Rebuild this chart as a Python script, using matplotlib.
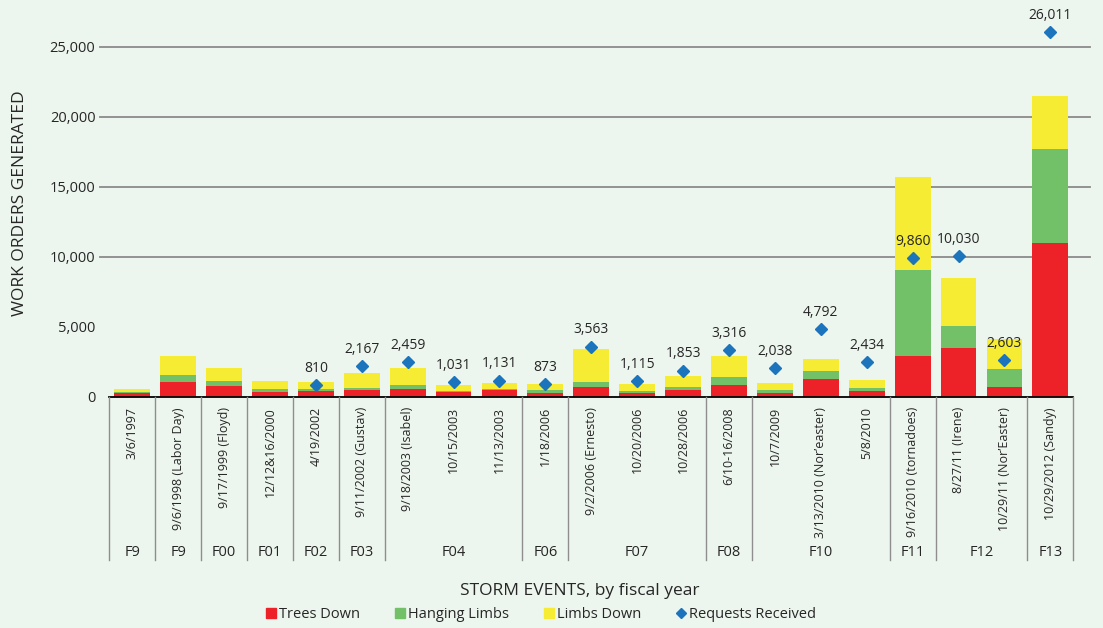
import numpy as np
import matplotlib
matplotlib.use("Agg")
import matplotlib.pyplot as plt
from matplotlib import transforms
from matplotlib.lines import Line2D

plt.rcParams['font.family'] = ['Open Sans', 'DejaVu Sans']

# ---------------- data ----------------
categories = ["3/6/1997", "9/6/1998 (Labor Day)", "9/17/1999 (Floyd)", "12/12&16/2000",
              "4/19/2002", "9/11/2002 (Gustav)", "9/18/2003 (Isabel)", "10/15/2003",
              "11/13/2003", "1/18/2006", "9/2/2006 (Ernesto)", "10/20/2006", "10/28/2006",
              "6/10-16/2008", "10/7/2009", "3/13/2010 (Nor\u2019easter)", "5/8/2010",
              "9/16/2010 (tornadoes)", "8/27/11 (Irene)", "10/29/11 (Nor\u2019Easter)",
              "10/29/2012 (Sandy)"]
fiscal_years = ["F9", "F9", "F00", "F01", "F02", "F03", "F04", "F06", "F07", "F08",
                "F10", "F11", "F12", "F13"]
fiscal_sizes = [1, 1, 1, 1, 1, 1, 3, 1, 3, 1, 3, 1, 2, 1]

trees_down = [260, 1070, 740, 310, 380, 480, 570, 310, 450, 260, 670, 260, 450, 790,
              260, 1240, 380, 2880, 3500, 710, 10930]
hanging_limbs = [80, 480, 350, 210, 190, 160, 220, 50, 70, 170, 400, 100, 220, 570,
                 190, 550, 210, 6190, 1570, 1220, 6780]
limbs_down = [170, 1350, 980, 620, 500, 1070, 1280, 430, 410, 430, 2290, 500, 830, 1500,
              550, 920, 620, 6640, 3410, 2210, 3790]
requests = [np.nan, np.nan, np.nan, np.nan, 810, 2167, 2459, 1031, 1131, 873, 3563, 1115,
            1853, 3316, 2038, 4792, 2434, 9860, 10030, 2603, 26011]
y_ticks = [0, 5000, 10000, 15000, 20000, 25000]
grid_values = [10000, 15000, 20000, 25000]

# ---------------- style ----------------
bg = '#EDF6EE'
c_red = '#ED2128'
c_green = '#72C169'
c_yellow = '#F5EC33'
c_blue = '#1C74BC'
c_text = '#262626'
c_grid = '#8A8A8A'

W, H = 1103, 628
fig = plt.figure(figsize=(W / 100, H / 100), dpi=100, facecolor=bg)
ax_left, ax_right, ax_base = 109.3, 1073.3, 396.5
ax = fig.add_axes([ax_left / W, (H - ax_base) / H, (ax_right - ax_left) / W, 385 / H])
ax.set_facecolor(bg)

x = np.arange(len(categories))
tr = np.array(trees_down)
hl = np.array(hanging_limbs)
ld = np.array(limbs_down)
bw = 0.78
ax.bar(x, tr, bw, color=c_red, zorder=3)
ax.bar(x, hl, bw, bottom=tr, color=c_green, zorder=3)
ax.bar(x, ld, bw, bottom=tr + hl, color=c_yellow, zorder=3)

req = np.array(requests, dtype=float)
ax.plot(x, req, linestyle='none', marker='D', markersize=5.8, color=c_blue, zorder=5)
for xi, v in zip(x, req):
    if not np.isnan(v):
        ax.annotate(f"{int(v):,}", (xi, v), xytext=(0, 12), textcoords='offset points',
                    ha='center', va='center', fontsize=10, color=c_text, zorder=6,
                    annotation_clip=False)

ax.set_xlim(-0.5, len(categories) - 0.5)
ax.set_ylim(0, 27500)
ax.set_yticks(y_ticks)
ax.set_yticklabels([f"{v:,}" for v in y_ticks], fontsize=10.5, color=c_text)
ax.tick_params(axis='y', length=0, pad=10)
ax.set_xticks([])
for s in ['top', 'right', 'left']:
    ax.spines[s].set_visible(False)
ax.spines['bottom'].set_color('black')
ax.spines['bottom'].set_linewidth(1.3)
ax.spines['bottom'].set_zorder(4)

# horizontal gridlines (extending slightly beyond the plot)
ytr = ax.get_yaxis_transform()
for g in grid_values:
    ax.plot([-(ax_left - 100) / (ax_right - ax_left), 1 + (1090 - ax_right) / (ax_right - ax_left)],
            [g, g], transform=ytr, color=c_grid, lw=1.3, zorder=1, clip_on=False)

# table below axis
btr = transforms.blended_transform_factory(ax.transData, fig.transFigure)
y_axis_fig = (H - ax_base) / H
y_table_bottom = (H - 560) / H
bounds = np.concatenate([[0], np.cumsum(fiscal_sizes)]) - 0.5
for b in bounds:
    fig.add_artist(Line2D([b, b], [y_axis_fig, y_table_bottom], transform=btr,
                          color='#8E8E8E', lw=1.0))
for lbl, start, size in zip(fiscal_years, bounds[:-1], fiscal_sizes):
    fig.text(start + size / 2, (H - 552) / H, lbl, transform=btr, ha='center', va='center',
             fontsize=10.5, color=c_text)
for xi, lbl in zip(x, categories):
    fig.text(xi, (H - 407) / H, lbl, transform=btr, rotation=90, ha='center', va='top',
             fontsize=9, color=c_text)

fig.text(20 / W, (H - 203) / H, "WORK ORDERS GENERATED", rotation=90, ha='center',
         va='center', fontsize=12.5, color=c_text)
fig.text(580 / W, (H - 591) / H, "STORM EVENTS, by fiscal year", ha='center', va='center',
         fontsize=12.5, color=c_text)

handles = [Line2D([], [], linestyle='none', marker='s', markersize=7, color=c_red),
           Line2D([], [], linestyle='none', marker='s', markersize=7, color=c_green),
           Line2D([], [], linestyle='none', marker='s', markersize=7, color=c_yellow),
           Line2D([], [], linestyle='none', marker='D', markersize=5.5, color=c_blue)]
fig.legend(handles, ["Trees Down", "Hanging Limbs", "Limbs Down", "Requests Received"],
           loc='center', bbox_to_anchor=(541 / W, (H - 615) / H), ncol=4, frameon=False,
           fontsize=10.5, handlelength=0.7, handletextpad=0.2, columnspacing=2.4,
           labelcolor=c_text)

fig.savefig("out.png", dpi=100, facecolor=bg)
